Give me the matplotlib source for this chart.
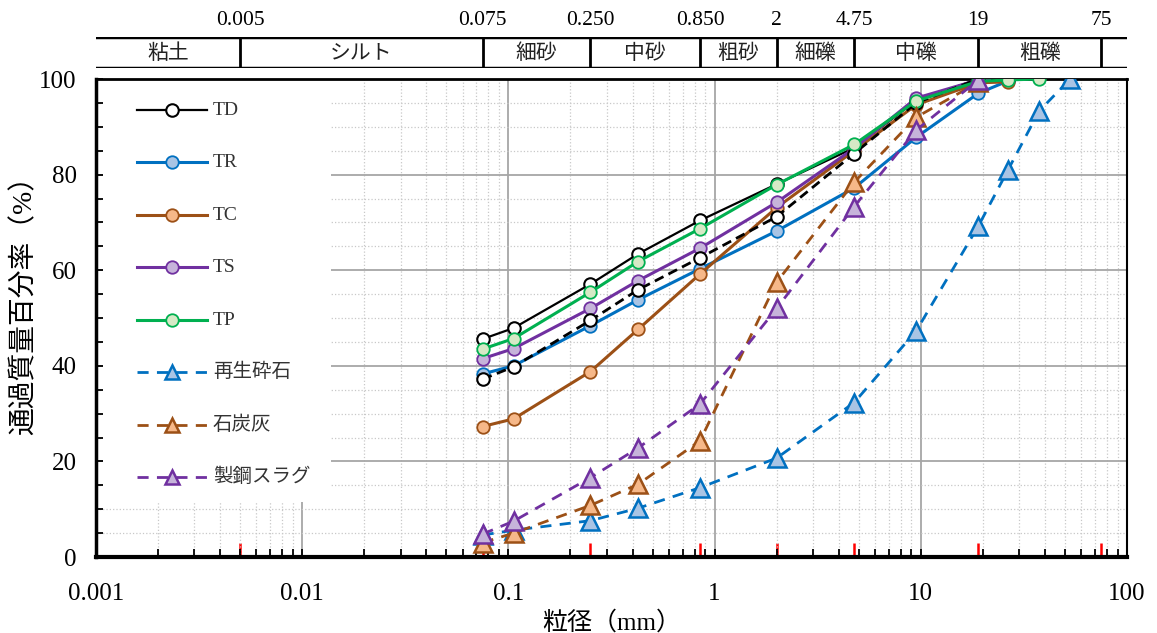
import numpy as np
import matplotlib
matplotlib.use('Agg')
import matplotlib.pyplot as plt
import matplotlib.ticker as mticker
from matplotlib.patches import Rectangle
from matplotlib.lines import Line2D
from matplotlib.legend_handler import HandlerLine2D

plt.rcParams['font.family'] = ['Liberation Serif', 'Noto Sans CJK JP']

# sieve sizes (mm)
sieve = [0.075, 0.106, 0.25, 0.425, 0.85, 2, 4.75, 9.5, 19, 26.5, 37.5, 53]

# passing percentage (%)
td = [45.6, 47.9, 57.1, 63.4, 70.4, 78.0, 85.6, 95.5, 100.0, 100.0]
td_dash = [37.2, 39.8, 49.5, 55.9, 62.6, 71.2, 84.4, 95.0, 100.0, 100.0]
tr = [38.3, 40.0, 48.4, 53.8, 60.3, 68.2, 77.2, 87.8, 97.0, 99.6]
tc = [27.3, 28.9, 38.8, 47.6, 59.2, 73.1, 85.0, 94.6, 99.2, 99.4]
ts = [41.5, 43.6, 52.0, 57.8, 64.6, 74.2, 85.5, 96.0, 99.8, 100.0]
tp = [43.5, 45.7, 55.4, 61.8, 68.7, 77.9, 86.3, 95.4, 99.5, 99.8, 100.0]
recycled = [4.6, 5.6, 7.6, 10.2, 14.5, 20.7, 32.3, 47.3, 69.2, 81.0, 93.3, 100.0]
coal_ash = [3.0, 5.0, 10.8, 15.2, 24.3, 57.5, 78.4, 92.0, 99.3]
slag = [4.8, 7.5, 16.6, 22.8, 32.0, 52.0, 73.3, 89.3, 99.8]

# soil classification
bounds = [0.001, 0.005, 0.075, 0.25, 0.85, 2, 4.75, 19, 75]
bound_labels = ['0.005', '0.075', '0.250', '0.850', '2', '4.75', '19', '75']
classes = ['粘土', 'シルト', '細砂', '中砂', '粗砂', '細礫', '中礫', '粗礫']

x_ticks = [0.001, 0.01, 0.1, 1, 10, 100]
x_ticklabels = ['0.001', '0.01', '0.1', '1', '10', '100']


class CenteredLine(HandlerLine2D):
    # lower the legend line so it sits at the middle of the label text
    def create_artists(self, legend, orig_handle, xdescent, ydescent,
                       width, height, fontsize, trans):
        arts = super().create_artists(legend, orig_handle, xdescent, ydescent,
                                      width, height, fontsize, trans)
        for a in arts:
            a.set_ydata(np.asarray(a.get_ydata()) - 0.27 * fontsize)
        return arts


W, H = 1157, 633
fig = plt.figure(figsize=(W / 100, H / 100), dpi=100)
ax = fig.add_axes((96 / W, 76 / H, 1031 / W, 478 / H))

ax.set_xscale('log')
ax.set_xlim(0.001, 100)
ax.set_ylim(0, 100)

ax.set_axisbelow(True)
ax.grid(which='major', color='#A6A6A6', linewidth=1.3, linestyle='-')
ax.grid(which='minor', color='#C8C8C8', linewidth=0.9, linestyle=':')

ax.set_xticks(x_ticks)
ax.set_xticklabels(x_ticklabels)
ax.xaxis.set_minor_locator(mticker.LogLocator(base=10, subs=np.arange(2, 10)))
ax.xaxis.set_minor_formatter(mticker.NullFormatter())
ax.set_yticks(range(0, 101, 20))
ax.yaxis.set_minor_locator(mticker.MultipleLocator(5))

ax.tick_params(axis='x', which='both', direction='in', length=6, width=1.3,
               labelsize=18, pad=19, top=False)
ax.tick_params(axis='y', which='both', direction='in', length=5, width=1.3,
               labelsize=18, pad=14, right=False)

ax.spines['left'].set_linewidth(2.5)
ax.spines['bottom'].set_linewidth(3)
ax.spines['top'].set_linewidth(2)
ax.spines['right'].set_linewidth(1.5)

# red marks at classification sizes
sec = ax.secondary_xaxis('bottom')
sec.set_xticks(bounds[1:])
sec.xaxis.set_minor_locator(mticker.NullLocator())
sec.tick_params(axis='x', which='both', direction='in', length=10, width=1.8,
                color='red', labelbottom=False)
sec.spines['bottom'].set_visible(False)

# white area behind legend
ax.add_patch(Rectangle((0.007, 0.115), 0.221, 0.885, transform=ax.transAxes,
                       facecolor='white', edgecolor='none', zorder=1))

ms_c = 9
ms_t = 13
ax.plot(sieve[:len(td)], td, '-o', color='black', lw=1.6, ms=ms_c,
        mfc='white', mec='black', mew=1.5, label='TD', zorder=3)
ax.plot(sieve[:len(tr)], tr, '-o', color='#0070C0', lw=2.2, ms=ms_c,
        mfc='#A9C4E4', mec='#0070C0', mew=1.3, label='TR', zorder=3)
ax.plot(sieve[:len(tc)], tc, '-o', color='#9C5016', lw=2.2, ms=ms_c,
        mfc='#F6B889', mec='#9C5016', mew=1.3, label='TC', zorder=3)
ax.plot(sieve[:len(ts)], ts, '-o', color='#7030A0', lw=2.2, ms=ms_c,
        mfc='#C6B4DA', mec='#7030A0', mew=1.3, label='TS', zorder=3)
ax.plot(sieve[:len(td_dash)], td_dash, '--o', color='black', lw=2, ms=ms_c,
        mfc='white', mec='black', mew=1.5, dashes=(3.5, 2), label='_nolegend_', zorder=3)
ax.plot(sieve[:len(tp)], tp, '-o', color='#00B050', lw=2.2, ms=ms_c,
        mfc='#D6E9C6', mec='#00B050', mew=1.3, label='TP', zorder=3)
ax.plot(sieve[:len(recycled)], recycled, '--^', color='#0070C0', lw=2, ms=ms_t,
        mfc='#A9C4E4', mec='#0070C0', mew=1.8, dashes=(4, 3), label='再生砕石', zorder=4)
ax.plot(sieve[:len(coal_ash)], coal_ash, '--^', color='#9C5016', lw=2, ms=ms_t,
        mfc='#F6B889', mec='#9C5016', mew=1.8, dashes=(4, 3), label='石炭灰', zorder=4)
ax.plot(sieve[:len(slag)], slag, '--^', color='#7030A0', lw=2, ms=ms_t,
        mfc='#C6B4DA', mec='#7030A0', mew=1.8, dashes=(4, 3), label='製鋼スラグ', zorder=4)

handles, labels = ax.get_legend_handles_labels()
order = ['TD', 'TR', 'TC', 'TS', 'TP', '再生砕石', '石炭灰', '製鋼スラグ']
hmap = dict(zip(labels, handles))
leg = ax.legend([hmap[k] for k in order], order,
                loc='upper left', bbox_to_anchor=(137 / W, (H - 94) / H),
                bbox_transform=fig.transFigure, frameon=False, fontsize=14,
                handlelength=3.6, handleheight=1.9, handletextpad=0.3,
                labelspacing=1.22, borderpad=0, borderaxespad=0,
                handler_map={Line2D: CenteredLine()})
for t in leg.get_texts():
    t.set_color('#333333')
for h in leg.legend_handles:
    if h.get_marker() == '^':
        h.set_markersize(10.5)

ax.set_xlabel('粒径（mm）', fontsize=18, labelpad=4)
ax.set_ylabel('通過質量百分率（%）', fontsize=20)
ax.yaxis.set_label_coords(-0.057, 0.54)

# classification header
ax_h = fig.add_axes((96 / W, (H - 68) / H, 1031 / W, 31 / H))
ax_h.set_xscale('log')
ax_h.set_xlim(0.001, 100)
ax_h.set_ylim(0, 1)
for s in ax_h.spines.values():
    s.set_visible(False)
ax_h.set_yticks([])
ax_h.set_xticks(bounds[1:])
ax_h.set_xticklabels(bound_labels)
ax_h.xaxis.set_minor_locator(mticker.NullLocator())
ax_h.tick_params(axis='x', which='both', bottom=False, labelbottom=False,
                 top=True, labeltop=True, length=0, pad=5, labelsize=15.5)
ax_h.axhline(1, color='black', lw=2.5)
ax_h.axhline(0, color='black', lw=2.5)
ax_h.vlines(bounds[1:], 0, 1, color='black', lw=2)
for lo, hi, name in zip(bounds[:-1], bounds[1:], classes):
    ax_h.text(np.sqrt(lo * hi), 0.45, name, ha='center', va='center',
              fontsize=15, color='#222222')

fig.savefig('out.png', dpi=100)
